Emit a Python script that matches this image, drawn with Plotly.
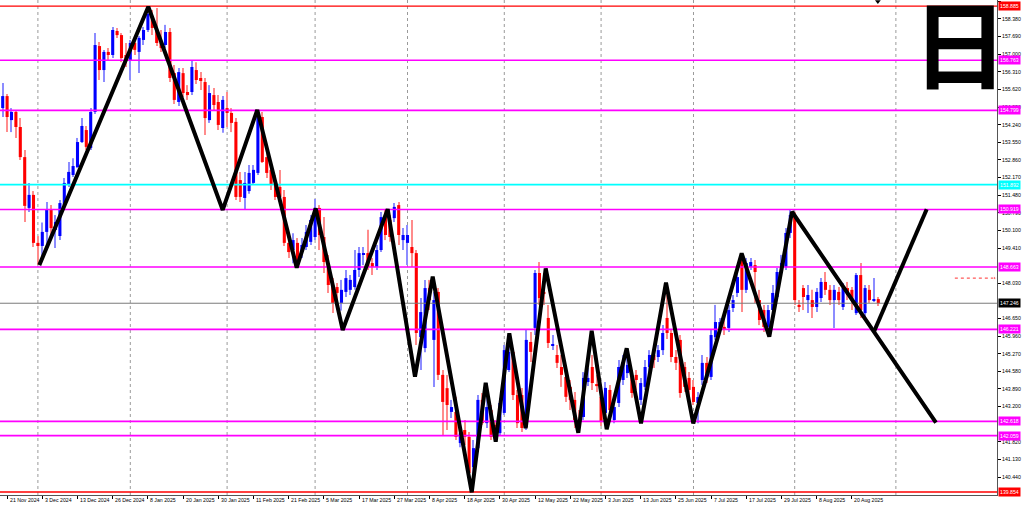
import numpy as np
import pandas as pd
import plotly.graph_objects as go

# ---------------- data (USDJPY daily) ----------------
opens = [154.89,155.36,154.42,154.74,154.15,152.97,150.98,151.49,149.61,149.49,
         150.04,150.90,150.12,149.88,151.09,151.88,152.27,152.58,153.56,154.03,
         153.33,154.74,157.32,156.38,157.09,156.97,157.91,157.75,156.97,156.77,
         157.44,157.09,157.56,157.95,158.50,157.95,157.44,157.36,157.87,156.26,
         155.13,156.26,155.52,155.52,156.38,156.07,155.91,154.42,155.40,155.13,
         154.11,154.89,154.70,154.35,152.07,151.37,151.64,151.96,152.35,154.54,
         152.97,152.47,151.96,151.80,151.41,149.61,149.33,149.61,149.25,149.45,
         149.65,149.84,150.98,149.84,148.82,147.96,147.88,147.26,147.69,147.77,
         147.88,148.55,149.14,149.21,148.82,148.67,149.33,150.62,150.51,150.58,
         151.09,149.72,149.61,149.45,149.21,145.92,145.49,147.84,145.81,147.69,
         144.44,143.92,142.99,142.99,141.77,142.28,142.01,140.83,141.57,143.46,
         142.55,143.06,142.48,142.16,142.95,144.63,145.34,143.65,143.65,142.40,
         145.73,146.28,148.43,147.69,146.67,145.57,145.22,144.75,144.36,143.97,
         143.46,142.67,142.79,144.16,144.75,144.08,143.58,142.95,143.85,142.67,
         143.34,144.24,144.51,144.36,144.44,143.46,143.97,144.75,145.22,145.14,
         145.41,146.67,146.08,145.14,145.81,144.75,144.32,143.97,143.34,144.24,
         144.91,144.36,145.92,146.28,146.32,146.28,147.06,147.65,148.94,147.77,
         148.67,148.74,147.37,146.98,146.32,146.98,147.49,148.43,148.67,150.00,
         150.70,147.18,147.84,147.37,147.37,147.10,147.45,148.08,147.77,147.37,
         147.69,147.10,147.84,147.77,146.86,148.35,146.86,147.77,147.37,147.41]
highs = [155.87,155.44,154.89,154.82,154.50,153.25,151.96,151.64,149.88,150.41,
         151.21,151.09,150.70,151.29,152.15,152.78,152.93,153.72,154.50,154.19,
         154.89,157.83,157.48,157.17,157.24,158.07,158.03,157.83,157.44,157.56,
         157.64,157.71,158.07,158.89,158.73,158.81,157.95,158.15,158.03,156.58,
         156.46,156.46,155.79,156.77,156.69,156.30,156.07,155.79,155.68,155.40,
         155.36,155.52,154.89,154.50,152.39,152.39,152.66,152.66,154.82,154.74,
         153.13,152.54,152.27,152.47,151.68,149.92,149.99,149.80,149.80,150.31,
         150.70,151.33,151.09,150.62,149.14,148.23,148.04,148.16,148.55,148.35,
         149.33,149.45,149.45,150.12,149.02,149.53,150.82,150.90,150.70,151.17,
         151.21,150.19,150.31,150.51,149.33,147.45,148.16,148.16,147.69,147.84,
         144.63,144.44,143.46,143.58,142.48,142.67,142.20,141.89,143.65,143.73,
         144.12,143.26,142.67,143.53,145.61,146.00,145.49,143.85,143.93,146.20,
         146.12,148.55,148.86,148.04,147.18,146.00,145.61,145.22,144.55,144.24,
         143.77,143.06,144.55,144.71,145.22,144.44,143.85,144.16,144.04,143.46,
         145.02,145.22,145.14,144.63,144.63,144.32,145.02,145.41,145.49,145.61,
         146.39,148.04,146.20,145.41,146.00,144.94,144.55,144.24,143.77,145.22,
         145.14,146.20,147.18,146.67,146.90,147.18,147.57,148.74,149.21,149.02,
         149.02,148.94,147.77,147.18,147.18,147.96,148.63,149.14,150.19,150.90,
         150.82,147.37,147.96,147.96,147.77,147.84,148.23,148.47,147.96,147.96,
         147.88,148.04,148.08,147.88,148.43,148.82,147.96,147.96,148.23,147.49]
lows = [154.54,153.95,153.95,153.72,152.86,150.43,150.82,149.45,148.74,149.02,
        149.45,149.80,149.41,149.72,150.98,151.80,152.19,152.54,153.52,153.25,
        153.25,154.66,155.99,155.91,156.77,156.85,157.64,156.69,156.50,155.99,
        156.97,156.26,157.36,157.87,157.75,157.32,157.09,157.24,155.91,155.05,
        154.97,155.32,155.21,155.40,155.83,155.60,153.84,154.31,154.82,154.03,
        153.92,154.15,153.95,151.29,151.21,150.90,151.53,151.88,152.27,152.74,
        152.15,151.68,151.29,151.09,149.49,149.02,148.81,148.74,149.02,149.33,
        149.53,149.72,149.33,148.43,147.65,146.86,147.37,146.96,147.49,147.57,
        147.77,148.27,148.74,148.55,148.35,148.55,149.25,149.72,149.65,150.43,
        149.53,149.33,148.74,148.67,145.61,144.63,145.33,146.98,143.97,144.24,
        142.08,142.28,142.75,141.89,141.61,141.69,140.40,139.85,141.41,142.48,
        142.36,141.89,141.89,142.05,142.87,144.55,143.46,142.36,142.20,142.28,
        144.94,146.00,147.18,147.18,145.49,145.41,144.71,143.97,143.38,143.06,
        142.36,142.36,142.67,144.00,143.85,143.77,142.44,142.75,142.67,142.55,
        143.18,144.04,144.32,143.54,143.85,143.26,143.85,144.55,144.71,144.94,
        145.22,145.85,144.94,144.63,143.54,143.77,143.61,143.26,142.55,144.04,
        144.12,144.24,145.81,146.12,146.00,146.12,146.90,147.49,146.90,147.65,
        148.55,147.26,146.39,146.12,146.00,146.79,147.37,148.23,148.55,149.80,
        147.18,146.90,146.98,146.86,146.67,146.90,147.29,147.57,147.18,146.28,
        147.18,146.98,147.37,146.98,146.79,146.67,146.67,147.26,147.29,147.14]
closes = [155.36,154.54,154.74,154.15,152.97,151.06,151.49,149.61,149.49,150.04,
          150.90,150.19,150.43,151.17,151.96,152.39,152.62,153.56,154.19,153.37,
          154.74,157.36,156.38,157.09,156.97,157.95,157.75,156.85,156.77,157.44,
          157.17,157.64,157.95,158.58,158.03,157.44,157.24,157.87,156.07,155.21,
          156.30,155.48,155.40,156.50,155.99,155.95,154.50,155.48,155.01,154.23,
          155.21,154.70,154.31,151.41,151.41,151.96,152.35,152.47,154.70,152.78,
          152.35,151.88,151.41,151.41,149.61,149.25,149.72,148.94,149.53,150.04,
          150.51,150.98,149.92,148.86,147.96,147.26,147.65,147.77,148.23,148.16,
          148.55,149.21,149.21,148.67,148.67,149.33,150.62,149.92,149.84,151.02,
          149.92,149.92,149.92,149.21,146.08,146.90,147.84,147.37,147.37,144.44,
          143.38,143.26,143.18,142.01,142.16,142.01,140.60,141.57,143.46,142.55,
          143.18,142.01,142.20,143.34,145.41,145.34,143.65,142.55,142.36,145.81,
          145.34,148.43,147.45,147.61,145.69,145.65,144.91,144.44,143.58,143.46,
          142.67,142.63,144.32,144.32,144.12,144.00,142.59,143.93,143.06,143.18,
          144.75,144.94,144.83,143.73,144.24,144.12,144.75,145.22,145.02,145.41,
          146.08,146.08,145.14,144.91,143.73,143.97,143.85,143.38,143.57,144.91,
          144.32,146.00,146.51,146.51,146.20,146.98,147.37,148.27,147.77,148.82,
          148.86,148.47,146.59,146.32,146.98,147.65,148.47,148.82,150.00,150.70,
          147.37,147.10,147.49,147.57,147.10,147.69,148.08,147.77,147.37,147.77,
          147.37,147.84,147.57,147.37,148.35,146.98,147.84,147.37,147.41,147.25]

holidays = ["2024-12-25", "2025-01-01"]
first_day, last_day = "2024-11-20", "2025-08-28"

date_labels = ["21 Nov 2024", "3 Dec 2024", "13 Dec 2024", "26 Dec 2024", "8 Jan 2025",
               "20 Jan 2025", "30 Jan 2025", "11 Feb 2025", "21 Feb 2025", "5 Mar 2025",
               "17 Mar 2025", "27 Mar 2025", "8 Apr 2025", "18 Apr 2025", "30 Apr 2025",
               "12 May 2025", "22 May 2025", "3 Jun 2025", "13 Jun 2025", "25 Jun 2025",
               "7 Jul 2025", "17 Jul 2025", "29 Jul 2025", "8 Aug 2025", "20 Aug 2025"]

# price scale labels (those fully hidden behind level tags are left out)
price_ticks = [159.069, 158.380, 157.690, 157.000, 156.310, 155.620, 154.930, 154.240,
               153.550, 152.860, 152.170, 151.480, 150.790, 150.100, 149.410,
               148.030, 146.650, 145.960, 145.270, 144.580, 143.890, 143.200,
               141.820, 141.130, 140.440]

level_values = [158.885, 156.763, 154.799, 151.892, 150.919, 148.663, 146.221, 142.618, 142.059, 139.854]
level_colors = ["#FF0000", "#FF00FF", "#FF00FF", "#00FFFF", "#FF00FF", "#FF00FF",
                "#FF00FF", "#FF00FF", "#FF00FF", "#FF0000"]
current_price = 147.246

# hand-drawn zigzag (bar position, price)
zz_bar = [8.32, 33.09, 50.0, 57.86, 66.82, 71.14, 77.27, 87.5, 93.7, 97.73, 106.6, 109.77,
          112.05, 115.14, 118.86, 123.41, 130.82, 133.86, 137.27, 141.82, 145.07, 150.75,
          156.95, 167.95, 174.23, 179.39, 212.11]
zz_price = [148.74, 158.86, 150.90, 154.82, 148.64, 150.96, 146.20, 150.93, 144.37, 148.29,
            139.84, 144.13, 141.82, 146.07, 142.35, 148.61, 142.17, 146.17, 142.31, 145.48,
            142.54, 148.05, 142.54, 149.20, 145.94, 150.83, 142.57]
branch_bar = [198.09, 210.0]
branch_price = [146.16, 150.93]

ask_bar = [216.4, 225.4]
ask_price = 148.23
alert_bar, alert_price = 198.9, 159.07
future_grid_bar = [203]

# ---------------- build ----------------
dates = pd.bdate_range(first_day, last_day)
dates = dates[~dates.isin(pd.to_datetime(holidays))]
idx = np.arange(len(dates))
O, H, L, C = map(np.array, (opens, highs, lows, closes))
up = C >= O

label_pos = [int(dates.get_loc(pd.to_datetime(s, format="%d %b %Y"))) for s in date_labels]
month_first = [i for i in range(1, len(dates)) if dates[i].month != dates[i - 1].month]
grid_pos = month_first + future_grid_bar

fig = go.Figure()

# wicks
for mask, col in ((up, "#8C8CFF"), (~up, "#FF8C8C")):
    fig.add_trace(go.Bar(x=idx[mask], y=(H - L)[mask], base=L[mask], width=0.24,
                         marker=dict(color=col, line=dict(width=0)), hoverinfo="skip"))
# bodies
body_lo = np.minimum(O, C)
body_h = np.maximum(np.abs(C - O), 0.035)
fig.add_trace(go.Bar(x=idx, y=body_h, base=body_lo, width=0.7,
                     marker=dict(color=np.where(up, "#0000FF", "#FF0000"), line=dict(width=0)),
                     hoverinfo="skip"))

xr = [-0.614, 225.98]
# levels
for v, c in zip(level_values, level_colors):
    fig.add_trace(go.Scatter(x=xr, y=[v, v], mode="lines",
                             line=dict(color=c, width=1.6 if c != "#FF0000" else 1.4),
                             hoverinfo="skip"))
fig.add_trace(go.Scatter(x=xr, y=[current_price, current_price], mode="lines",
                         line=dict(color="#7A7A7A", width=1), hoverinfo="skip"))
# ask dotted
fig.add_trace(go.Scatter(x=ask_bar, y=[ask_price, ask_price], mode="lines+markers",
                         line=dict(color="#FF3030", width=1, dash="dot"),
                         marker=dict(symbol=["line-ns", "triangle-right"], size=[0, 4], color="#FF3030"),
                         hoverinfo="skip"))
# zigzag
fig.add_trace(go.Scatter(x=zz_bar, y=zz_price, mode="lines",
                         line=dict(color="#000000", width=4), hoverinfo="skip"))
fig.add_trace(go.Scatter(x=branch_bar, y=branch_price, mode="lines",
                         line=dict(color="#000000", width=4), hoverinfo="skip"))
fig.add_trace(go.Scatter(x=[alert_bar], y=[alert_price], mode="markers",
                         marker=dict(symbol="triangle-down", size=5, color="black"),
                         cliponaxis=False, hoverinfo="skip"))

shapes = [dict(type="line", xref="x", yref="paper", x0=p, x1=p, y0=0, y1=1,
               line=dict(color="#9A9A9A", width=1, dash="dot"), layer="below") for p in grid_pos]

tiny = dict(family="Liberation Sans, Arial, sans-serif", size=5.2, color="#000000")
annotations = []
for s, p in zip(date_labels, label_pos):
    annotations.append(dict(x=p, y=0, xref="x", yref="paper", text=s, showarrow=False,
                            xanchor="left", yanchor="top", xshift=0.5, font=tiny, borderpad=1))
for v, c in list(zip(level_values, level_colors)) + [(current_price, "#000000")]:
    annotations.append(dict(x=1, y=v, xref="paper", yref="y", text=f"{v:.3f}", showarrow=False,
                            xanchor="left", yanchor="middle", xshift=1, bgcolor=c,
                            font=dict(family=tiny["family"], size=5.2, color="#FFFFFF"), borderpad=1))
annotations.append(dict(x=0.9624, y=0.920, xref="paper", yref="paper", text="日", showarrow=False,
                        xanchor="center", yanchor="middle",
                        font=dict(family="Noto Sans CJK JP", size=96, color="#000000", weight=700)))

fig.update_layout(
    width=1024, height=507, margin=dict(l=0, r=27, t=0, b=12),
    paper_bgcolor="white", plot_bgcolor="white", showlegend=False, barmode="overlay",
    shapes=shapes, annotations=annotations,
    xaxis=dict(range=xr, showgrid=False, zeroline=False, tickvals=label_pos, ticktext=[""] * len(label_pos),
               ticks="outside", ticklen=3, tickcolor="#000", showline=True, linecolor="#555",
               linewidth=1, mirror=True, fixedrange=True),
    yaxis=dict(range=[139.735, 159.124], side="right", showgrid=False, zeroline=False,
               tickvals=price_ticks, ticktext=[f"{v:.3f}" for v in price_ticks],
               ticks="outside", ticklen=3, tickcolor="#000", tickfont=tiny,
               showline=True, linecolor="#555", linewidth=1, fixedrange=True),
)

fig.write_html("out.html", config={"displayModeBar": False},
               post_script="document.body.style.margin='0';document.body.style.overflow='hidden';")
